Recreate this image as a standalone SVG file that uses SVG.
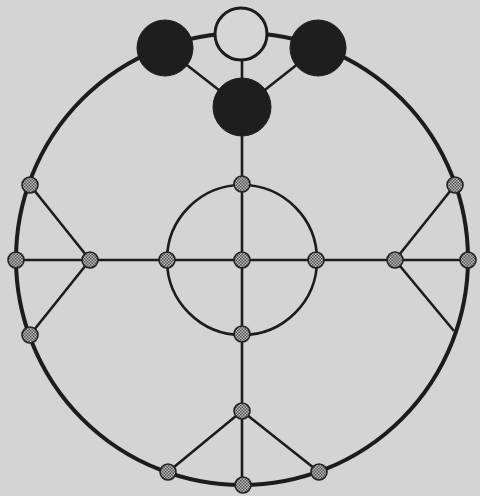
<svg xmlns="http://www.w3.org/2000/svg" width="480" height="496" viewBox="0 0 480 496">
<defs>
<pattern id="hatch" width="3" height="3" patternUnits="userSpaceOnUse">
<rect width="3" height="3" fill="#b8b8b8"/>
<rect width="1.5" height="1.5" fill="#555"/>
<rect x="1.5" y="1.5" width="1.5" height="1.5" fill="#555"/>
</pattern>
</defs>
<style>
.ln{stroke:#1c1c1c;stroke-width:2.6;fill:none}
.ring{stroke:#1c1c1c;stroke-width:4;fill:none}
.n{fill:url(#hatch);stroke:#222;stroke-width:1.6}
.blk{fill:#1e1e1e;stroke:#1e1e1e;stroke-width:1}
.wht{fill:#d6d6d6;stroke:#1c1c1c;stroke-width:3}
</style>
<rect width="480" height="496" fill="#d4d4d4"/>
<g id="connectors">
<circle class="ring" cx="242" cy="259" r="226"/>
<circle class="ln" cx="242" cy="260" r="75"/>
<line class="ln" x1="16" y1="260" x2="468" y2="260"/>
<line class="ln" x1="242" y1="60" x2="242" y2="485"/>
<line class="ln" x1="165" y1="48" x2="242" y2="108"/>
<line class="ln" x1="318" y1="48" x2="242" y2="108"/>
<line class="ln" x1="30" y1="185" x2="90" y2="260"/>
<line class="ln" x1="30" y1="335" x2="90" y2="260"/>
<line class="ln" x1="455" y1="185" x2="395" y2="260"/>
<line class="ln" x1="454" y1="331" x2="395" y2="260"/>
<line class="ln" x1="168" y1="472" x2="242" y2="411"/>
<line class="ln" x1="319" y1="472" x2="242" y2="411"/>
</g>
<g id="top-white"><circle class="wht" cx="241" cy="34" r="26"/></g>
<g id="black-left"><circle class="blk" cx="165" cy="48" r="28"/></g>
<g id="black-right"><circle class="blk" cx="318" cy="48" r="28"/></g>
<g id="black-center"><circle class="blk" cx="242" cy="107" r="29"/></g>
<g id="n-l1"><circle class="n" cx="30" cy="185" r="8"/></g>
<g id="n-l2"><circle class="n" cx="16" cy="260" r="8"/></g>
<g id="n-l3"><circle class="n" cx="30" cy="335" r="8"/></g>
<g id="n-lhub"><circle class="n" cx="90" cy="260" r="8"/></g>
<g id="n-cl"><circle class="n" cx="167" cy="260" r="8"/></g>
<g id="n-cc"><circle class="n" cx="242" cy="260" r="8"/></g>
<g id="n-cr"><circle class="n" cx="316" cy="260" r="8"/></g>
<g id="n-ct"><circle class="n" cx="242" cy="184" r="8"/></g>
<g id="n-cb"><circle class="n" cx="242" cy="334" r="8"/></g>
<g id="n-rhub"><circle class="n" cx="395" cy="260" r="8"/></g>
<g id="n-r1"><circle class="n" cx="455" cy="185" r="8"/></g>
<g id="n-r2"><circle class="n" cx="468" cy="260" r="8"/></g>
<g id="n-bhub"><circle class="n" cx="242" cy="411" r="8"/></g>
<g id="n-b1"><circle class="n" cx="168" cy="472" r="8"/></g>
<g id="n-b2"><circle class="n" cx="243" cy="485" r="8"/></g>
<g id="n-b3"><circle class="n" cx="319" cy="472" r="8"/></g>
</svg>
